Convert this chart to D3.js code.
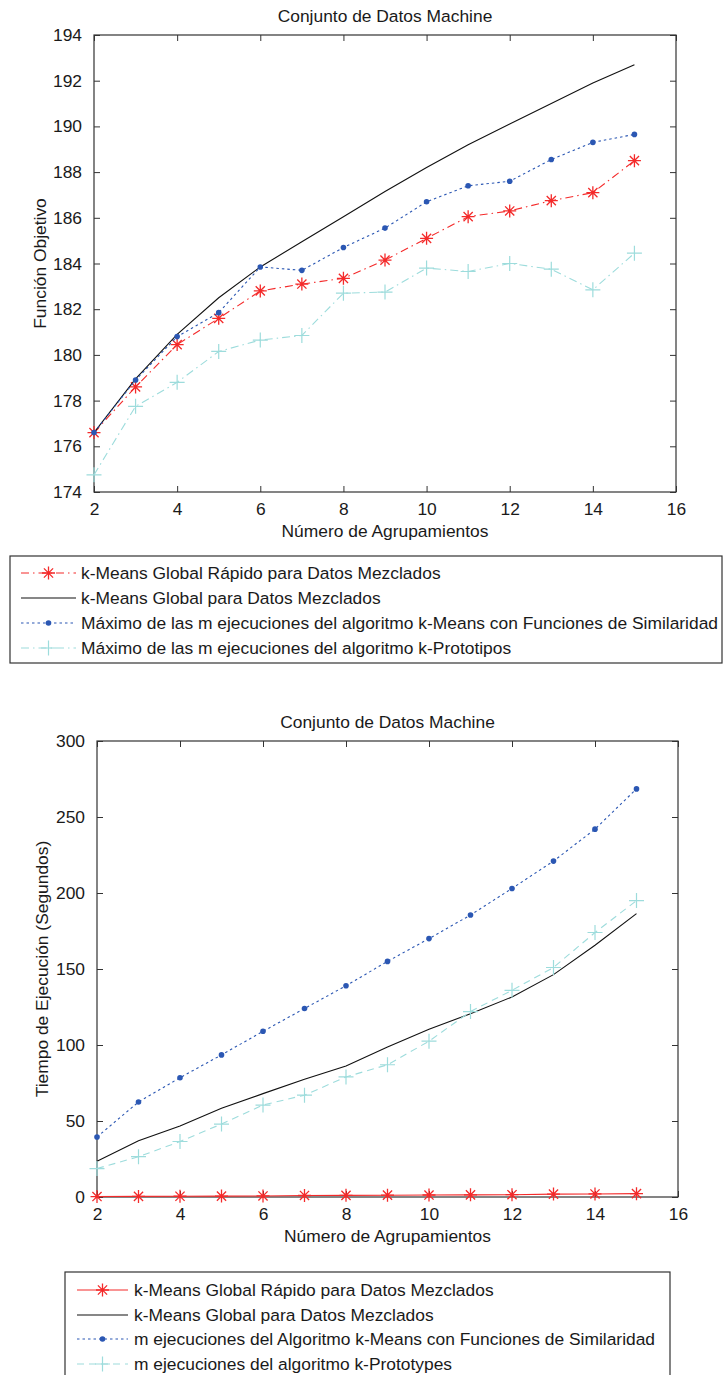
<!DOCTYPE html>
<html><head><meta charset="utf-8">
<script src="https://cdn.jsdelivr.net/npm/d3@7"></script>
<style>
html,body{margin:0;padding:0;background:#fff;}
svg text{font-family:"Liberation Sans",Arial,sans-serif;fill:#1a1a1a;}
</style></head>
<body>
<svg id="c" width="728" height="1375"></svg>
<script>
// ---------- DATA ----------
const clusters = [2,3,4,5,6,7,8,9,10,11,12,13,14,15];
const xTicks = [2,4,6,8,10,12,14,16];

// Chart 1: Función Objetivo
const objRapido       = [176.6,178.6,180.45,181.6,182.8,183.1,183.35,184.15,185.1,186.05,186.3,186.75,187.1,188.5];
const objGlobal       = [176.6,178.95,180.9,182.5,183.85,184.95,186.05,187.15,188.2,189.2,190.1,191.0,191.9,192.7];
const objSimilaridad  = [176.6,178.9,180.8,181.85,183.85,183.7,184.7,185.55,186.7,187.4,187.6,188.55,189.3,189.65];
const objPrototipos   = [174.75,177.75,178.8,180.15,180.65,180.85,182.7,182.75,183.8,183.65,184.0,183.75,182.85,184.45];
const objYTicks = [174,176,178,180,182,184,186,188,190,192,194];

// Chart 2: Tiempo de Ejecución
const timeRapido      = [0.3,0.4,0.5,0.6,0.7,1.0,1.1,1.2,1.3,1.4,1.5,1.9,2.0,2.2];
const timeGlobal      = [23.5,37,46.7,58.4,68,77.4,86.2,98.7,110.3,120.6,131.6,146.3,165.6,186.4];
const timeSimilaridad = [39.5,62.5,78.5,93.5,109,124,139,155,170,185.5,203,221,242,268.5];
const timePrototypes  = [18.7,26.5,36.5,48,60.5,67,79,87,102.5,122,136,151,174,195];
const timeYTicks = [0,50,100,150,200,250,300];

const title = "Conjunto de Datos Machine";
const xLabel = "Número de Agrupamientos";
const yLabel1 = "Función Objetivo";
const yLabel2 = "Tiempo de Ejecución (Segundos)";

const legend1 = ["k-Means Global Rápido para Datos Mezclados",
                 "k-Means Global para Datos Mezclados",
                 "Máximo de las m ejecuciones del algoritmo k-Means con Funciones de Similaridad",
                 "Máximo de las m ejecuciones del algoritmo k-Prototipos"];
const legend2 = ["k-Means Global Rápido para Datos Mezclados",
                 "k-Means Global para Datos Mezclados",
                 "m ejecuciones del Algoritmo k-Means con Funciones de Similaridad",
                 "m ejecuciones del algoritmo k-Prototypes"];

// ---------- STYLES ----------
const RED = "#f42a2a", BLACK = "#111", BLUE = "#2b57b3", CYAN = "#9ddcdc";
const FS = 17.4;

const svg = d3.select("#c");

function asteriskPath(r){
  let p = "";
  for (let k=0;k<4;k++){
    const a = k*Math.PI/4;
    const dx = r*Math.cos(a), dy = r*Math.sin(a);
    p += `M${-dx},${-dy}L${dx},${dy}`;
  }
  return p;
}
function plusPath(r){ return `M${-r},0L${r},0M0,${-r}L0,${r}`; }

function drawMarker(g, type, color){
  if (type==="star") g.append("path").attr("d", asteriskPath(6.5)).attr("stroke", color).attr("stroke-width",1.3).attr("fill","none");
  else if (type==="dot") g.append("circle").attr("r",2.8).attr("fill", color);
  else if (type==="plus") g.append("path").attr("d", plusPath(7.5)).attr("stroke", color).attr("stroke-width",1.2).attr("fill","none");
}

function drawChart(cfg){
  const {left,right,top,bottom,yDomain,yTicks,series,ylab} = cfg;
  const x = d3.scaleLinear().domain([2,16]).range([left,right]);
  const y = d3.scaleLinear().domain(yDomain).range([bottom,top]);
  const g = svg.append("g");
  const axCol = "#333";
  g.append("rect").attr("x",left).attr("y",top).attr("width",right-left).attr("height",bottom-top)
    .attr("fill","none").attr("stroke",axCol).attr("stroke-width",1.2);
  const tl = 6;
  g.append("g").attr("transform",`translate(0,${bottom})`)
    .call(d3.axisBottom(x).tickValues(xTicks).tickSize(-tl).tickPadding(tl+5).tickFormat(d3.format("d")))
    .call(a=>{a.select(".domain").remove(); a.selectAll("line").attr("stroke",axCol);
      a.selectAll("text").attr("font-size",FS).attr("fill","#1a1a1a").attr("font-family",null);});
  g.append("g").attr("transform",`translate(0,${top})`)
    .call(d3.axisTop(x).tickValues(xTicks).tickSize(-tl).tickFormat(""))
    .call(a=>{a.select(".domain").remove(); a.selectAll("line").attr("stroke",axCol);});
  g.append("g").attr("transform",`translate(${left},0)`)
    .call(d3.axisLeft(y).tickValues(yTicks).tickSize(-tl).tickPadding(tl+6).tickFormat(d3.format("d")))
    .call(a=>{a.select(".domain").remove(); a.selectAll("line").attr("stroke",axCol);
      a.selectAll("text").attr("font-size",FS).attr("fill","#1a1a1a").attr("font-family",null);});
  g.append("g").attr("transform",`translate(${right},0)`)
    .call(d3.axisRight(y).tickValues(yTicks).tickSize(-tl).tickFormat(""))
    .call(a=>{a.select(".domain").remove(); a.selectAll("line").attr("stroke",axCol);});
  g.append("text").attr("x",(left+right)/2).attr("y",top-13).attr("text-anchor","middle").attr("font-size",FS).text(title);
  g.append("text").attr("x",(left+right)/2).attr("y",bottom+45).attr("text-anchor","middle").attr("font-size",FS).text(xLabel);
  g.append("text").attr("transform",`translate(${cfg.ylabX},${(top+bottom)/2}) rotate(-90)`)
    .attr("text-anchor","middle").attr("font-size",FS).text(ylab);
  const line = d3.line().x((d,i)=>x(clusters[i])).y(d=>y(d));
  series.forEach(s=>{
    g.append("path").datum(s.values).attr("d",line).attr("fill","none")
      .attr("stroke",s.color).attr("stroke-width",1.1).attr("stroke-dasharray",s.dash||null);
    if (s.marker){
      s.values.forEach((v,i)=>{
        const mg = g.append("g").attr("transform",`translate(${x(clusters[i])},${y(v)})`);
        drawMarker(mg, s.marker, s.color);
      });
    }
  });
}

function drawLegend(cfg){
  const {left,right,top,bottom,rowY,lineX0,lineX1,textX,series,labels} = cfg;
  const g = svg.append("g");
  g.append("rect").attr("x",left).attr("y",top).attr("width",right-left).attr("height",bottom-top)
    .attr("fill","#fff").attr("stroke","#333").attr("stroke-width",1.2);
  series.forEach((s,i)=>{
    const yy = rowY[i];
    g.append("line").attr("x1",lineX0).attr("x2",lineX1).attr("y1",yy).attr("y2",yy)
      .attr("stroke",s.color).attr("stroke-width",1.1).attr("stroke-dasharray",s.dash||null);
    if (s.marker){
      const mg = g.append("g").attr("transform",`translate(${(lineX0+lineX1)/2},${yy})`);
      drawMarker(mg, s.marker, s.color);
    }
    g.append("text").attr("x",textX).attr("y",yy).attr("dy","0.35em").attr("font-size",FS).text(labels[i]);
  });
}

const DASHDOT = "8,4,1.5,4", DOT = "2.5,3", DASH = "7,5";

const s1 = [
  {values: objRapido, color: RED, dash: DASHDOT, marker:"star"},
  {values: objGlobal, color: BLACK},
  {values: objSimilaridad, color: BLUE, dash: DOT, marker:"dot"},
  {values: objPrototipos, color: CYAN, dash: DASHDOT, marker:"plus"}
];
const s2 = [
  {values: timeRapido, color: RED, marker:"star"},
  {values: timeGlobal, color: BLACK},
  {values: timeSimilaridad, color: BLUE, dash: DOT, marker:"dot"},
  {values: timePrototypes, color: CYAN, dash: DASH, marker:"plus"}
];

drawChart({left:94, right:676, top:35, bottom:492, yDomain:[174,194], yTicks:objYTicks, series:s1, ylab:yLabel1, ylabX:46});
drawLegend({left:10, right:722, top:556, bottom:663, rowY:[573,598,623,648], lineX0:21, lineX1:76, textX:81, series:s1, labels:legend1});

drawChart({left:97, right:678, top:741, bottom:1197, yDomain:[0,300], yTicks:timeYTicks, series:s2, ylab:yLabel2, ylabX:48});
drawLegend({left:65, right:670, top:1272, bottom:1380, rowY:[1290,1315,1339,1364], lineX0:77, lineX1:128, textX:134, series:s2, labels:legend2});
</script>
</body></html>
